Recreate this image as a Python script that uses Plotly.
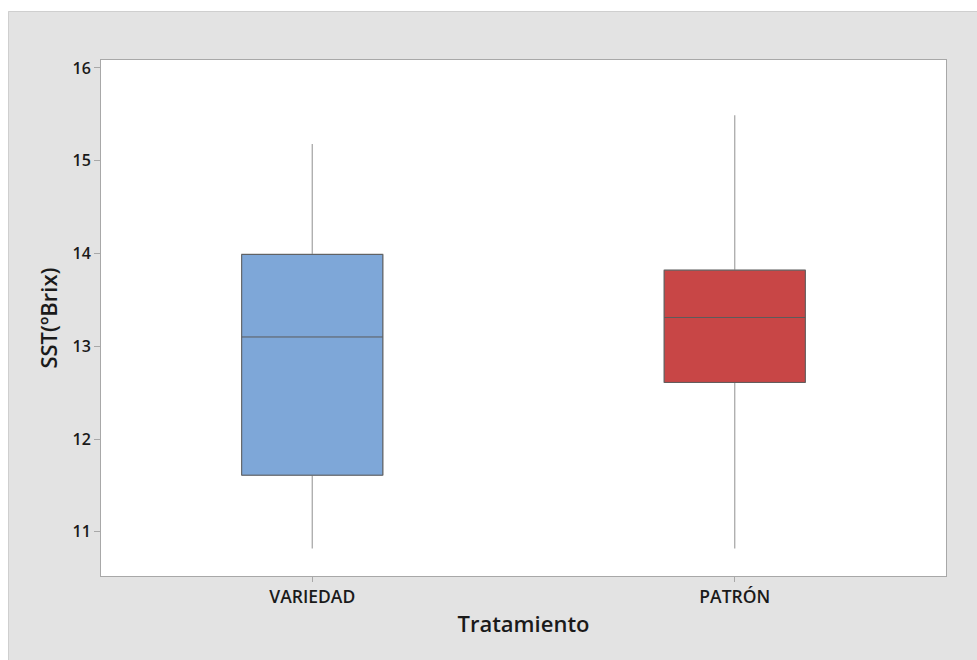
import plotly.graph_objects as go

# Summary statistics of soluble solids (SST, ºBrix) by treatment
categories = ["VARIEDAD", "PATRÓN"]
lower_whisker = [10.82, 10.82]
q1_values = [11.61, 12.61]
medians = [13.10, 13.31]
q3_values = [13.99, 13.82]
upper_whisker = [15.18, 15.49]
fill_colors = ["#7ea7d8", "#c84646"]

FONT = "Open Sans, Noto Sans, sans-serif"
PANEL = "#e3e3e3"

fig = go.Figure()

for i, cat in enumerate(categories):
    # whiskers (light grey), box hidden underneath the filled box
    fig.add_trace(go.Box(
        x=[cat], q1=[q1_values[i]], median=[medians[i]], q3=[q3_values[i]],
        lowerfence=[lower_whisker[i]], upperfence=[upper_whisker[i]],
        width=0.334, whiskerwidth=0, fillcolor="rgba(0,0,0,0)",
        line=dict(color="#a3a3a3", width=1.2), boxpoints=False,
        hoverinfo="skip", showlegend=False,
    ))
    # interquartile box with median line
    fig.add_trace(go.Box(
        x=[cat], q1=[q1_values[i]], median=[medians[i]], q3=[q3_values[i]],
        lowerfence=[q1_values[i]], upperfence=[q3_values[i]],
        width=0.334, whiskerwidth=0, fillcolor=fill_colors[i],
        line=dict(color="#5c5c5c", width=1), boxpoints=False,
        showlegend=False,
    ))

# white strips around the grey panel, plus the panel's edge lines
fig.add_shape(type="rect", xref="paper", yref="paper",
              x0=-0.2, x1=(8 - 101) / 845, y0=-0.3, y1=1.3,
              fillcolor="white", line=dict(width=0), layer="above")
fig.add_shape(type="rect", xref="paper", yref="paper",
              x0=-0.2, x1=1.2, y0=1 + (60 - 11) / 516, y1=1.3,
              fillcolor="white", line=dict(width=0), layer="above")
fig.add_shape(type="line", xref="paper", yref="paper",
              x0=(8.5 - 101) / 845, x1=(8.5 - 101) / 845,
              y0=-0.3, y1=1 + (60 - 11.5) / 516,
              line=dict(color="#cfcfcf", width=1))
fig.add_shape(type="line", xref="paper", yref="paper",
              x0=(8.5 - 101) / 845, x1=1.2,
              y0=1 + (60 - 11.5) / 516, y1=1 + (60 - 11.5) / 516,
              line=dict(color="#cfcfcf", width=1))

fig.update_layout(
    width=977, height=660,
    margin=dict(l=101, r=31, t=60, b=84),
    paper_bgcolor=PANEL, plot_bgcolor="white",
    font=dict(family=FONT, color="#1a1a1a"),
    boxmode="overlay",
    xaxis=dict(
        type="category", range=[-0.5, 1.5],
        showline=True, mirror=True, linecolor="#a8a8a8", linewidth=1,
        ticks="outside", ticklen=5, tickcolor="#a8a8a8",
        tickfont=dict(size=17.5, family=FONT, weight=600),
        title=dict(text="Tratamiento", standoff=9,
                   font=dict(size=22, family=FONT, weight=600)),
        showgrid=False, zeroline=False,
    ),
    yaxis=dict(
        range=[10.523, 16.086], dtick=1, tick0=11,
        showline=True, mirror=True, linecolor="#a8a8a8", linewidth=1,
        ticks="outside", ticklen=6, tickcolor="#a8a8a8",
        tickfont=dict(size=16, family=FONT, weight=600),
        title=dict(text="SST(ºBrix)", standoff=8,
                   font=dict(size=22, family=FONT, weight=600)),
        showgrid=False, zeroline=False,
    ),
)

fig.write_html("out.html")
